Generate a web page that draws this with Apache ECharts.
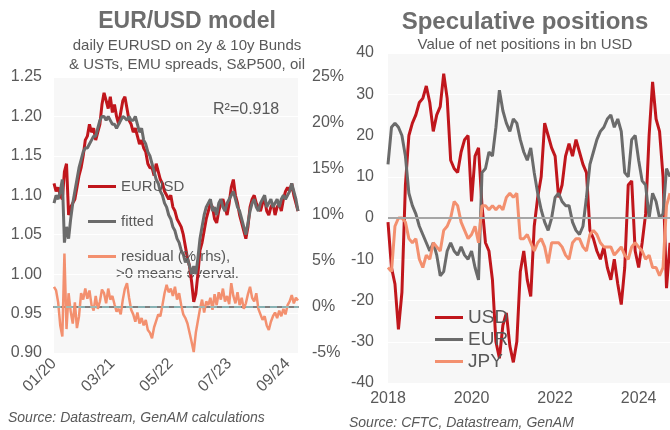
<!DOCTYPE html>
<html>
<head>
<meta charset="utf-8">
<script src="https://cdn.jsdelivr.net/npm/echarts@6/dist/echarts.min.js"></script>
<style>
html, body { margin: 0; padding: 0; background: #fff; }
#chart { width: 670px; height: 430px; }
</style>
</head>
<body>
<div id="chart"></div>
<script>
// left panel: semi-monthly points, Jan 2020 - Nov 2024
var eurusd = [
    1.115,1.105,1.110,1.100,1.095,1.130,1.140,1.075,1.085,1.090,1.095,1.110,1.125,1.135,1.150,1.170,1.175,1.190,1.180,1.185,1.170,1.180,1.190,1.215,
    1.230,1.220,1.210,1.225,1.205,1.215,1.200,1.190,1.205,1.220,1.225,1.210,1.195,1.190,1.180,1.185,1.175,1.165,1.170,1.160,1.155,1.140,1.135,1.135,
    1.125,1.140,1.130,1.120,1.115,1.105,1.100,1.095,1.100,1.085,1.080,1.070,1.065,1.060,1.050,1.035,1.020,1.010,0.990,0.965,0.975,1.000,1.030,1.040,
    1.055,1.070,1.080,1.090,1.085,1.070,1.065,1.080,1.090,1.095,1.085,1.075,1.090,1.110,1.120,1.100,1.090,1.075,1.065,1.055,1.045,1.060,1.085,1.095,
    1.100,1.090,1.085,1.080,1.090,1.095,1.080,1.075,1.085,1.090,1.075,1.085,1.090,1.080,1.095,1.105,1.110,1.105,1.115,1.100,1.090,1.080
];
var fitted = [
    1.090,1.100,1.095,1.105,1.120,1.040,1.060,1.045,1.070,1.090,1.105,1.120,1.135,1.145,1.155,1.160,1.160,1.165,1.170,1.175,1.175,1.185,1.195,1.200,
    1.200,1.195,1.200,1.195,1.190,1.190,1.185,1.190,1.195,1.200,1.198,1.195,1.200,1.195,1.195,1.200,1.190,1.180,1.185,1.170,1.165,1.155,1.150,1.140,
    1.130,1.120,1.115,1.105,1.100,1.090,1.085,1.075,1.070,1.060,1.055,1.045,1.040,1.030,1.025,1.015,1.020,1.010,1.000,1.010,1.000,1.020,1.045,1.060,
    1.075,1.085,1.090,1.095,1.080,1.085,1.075,1.090,1.095,1.085,1.080,1.090,1.095,1.100,1.105,1.095,1.085,1.080,1.070,1.060,1.050,1.065,1.080,1.090,
    1.095,1.085,1.080,1.090,1.095,1.100,1.085,1.090,1.095,1.085,1.090,1.095,1.085,1.095,1.100,1.095,1.100,1.105,1.115,1.105,1.095,1.080
];
var residual = [
    2.2,1.8,0.5,-2.0,-3.2,5.8,-2.4,1.5,-0.5,-1.8,0.5,-2.3,-1.0,1.5,0.8,2.0,0.9,1.8,0.2,-0.4,1.2,-0.2,0.6,1.9,
    1.5,0.4,2.0,0.8,1.2,0.3,-0.5,-0.2,-0.8,0.8,2.0,2.6,1.0,-0.3,-0.8,-1.6,-0.6,-1.8,-1.2,-2.0,-1.4,-2.5,-2.8,-3.4,
    -2.2,-1.5,-0.8,-1.0,0.2,1.5,2.4,1.6,2.0,1.2,2.2,0.8,1.5,0.2,-0.8,-1.2,-1.8,-2.8,-3.8,-4.9,-2.8,-1.5,-0.2,0.8,
    -0.6,0.6,0.2,1.0,-0.3,1.4,0.2,1.6,0.8,2.0,0.6,1.2,0.3,2.6,1.2,0.4,1.6,0.2,1.0,-0.2,0.4,1.4,2.2,1.0,
    0.6,1.5,-0.2,-0.8,-1.4,-1.0,-2.0,-2.5,-1.6,-1.0,-0.6,-1.2,-0.4,-1.0,-0.2,-0.8,0.2,0.6,1.3,0.4,1.0,0.7
];
var leftTicks = ['01/20', '03/21', '05/22', '07/23', '09/24'];

// right panel: monthly points, Jan 2018 - Oct 2024
var usd = [
    -1,-12,-16,-27,-18,8,20,23,25,28,29,32,
    28,21,25,27,35,29,14,12,11,16,19,20,
    4,15,17,3,-6,-8,-15,-30,-34,-26,-23,-31,
    -35,-30,-13,-8,-15,-19,-2,5,10,23,20,17,
    15,5,8,15,18,15,19,16,13,11,-3,-5,
    -8,-10,-7,-12,-15,-10,-16,-21,-12,8,9,-8,
    -12,-6,1,20,33,24,21,10,-17,-6
];
var eur = [
    13,22,23,22,20,15,6,3,1,-2,-4,-6,
    -8,-6,-9,-14,-13,-8,-6,-8,-9,-7,-9,-10,
    -8,-12,-15,11,12,16,15,22,31,26,23,21,
    24,23,19,16,14,17,11,6,2,-1,-3,0,
    5,6,4,3,3,-1,-3,-4,-2,5,13,16,
    19,21,22,24,25,22,24,21,11,10,19,20,
    14,9,8,0,6,4,0,1,12,10
];
var jpy = [
    -12,-13,-2,0,0,-1,-5,-6,-5,-10,-12,-9,
    -10,-6,-7,-8,-3,-2,0,4,3,-1,-3,-5,
    -4,-2,-6,3,3,2,3,2,3,2,5,6,
    5,6,-5,-5,-4,-6,-8,-6,-5,-7,-11,-6,
    -6,-6,-7,-9,-10,-6,-5,-5,-7,-8,-4,-3,
    -4,-6,-7,-7,-7,-9,-8,-7,-9,-10,-7,-6,
    -7,-8,-10,-9,-12,-12,-14,-12,3,6
];
var rightTicks = ['2018', '2020', '2022', '2024'];

var leftDates = [];
var rightMonths = [];

window.onload = function(){
    buildDates();
    showChart();
}

function pad(n) {
    return (n < 10 ? '0' : '') + n;
}

function buildDates() {
    var y = 2020, m = 1;
    while (leftDates.length < eurusd.length) {
        leftDates.push(y + '-' + pad(m) + '-01', y + '-' + pad(m) + '-15');
        m++;
        if (m > 12) { m = 1; y++; }
    }
    y = 2018; m = 1;
    while (rightMonths.length < usd.length) {
        rightMonths.push(y + '-' + pad(m));
        m++;
        if (m > 12) { m = 1; y++; }
    }
}

function leftLabel(v) {
    var p = v.split('-');
    return p[1] + '/' + p[0].slice(2);
}

function showChart() {

    var myChart = echarts.init(document.getElementById('chart'));
    var font = '"Liberation Sans", Arial, sans-serif';
    var txt = '#595959';
    var red = '#c0161c', grey = '#6b6b6b', salmon = '#f3906f';

    option = {
        animation: false,
        textStyle: { fontFamily: font },
        title: [
            {
                text: 'EUR/USD model',
                subtext: 'daily EURUSD on 2y & 10y Bunds\n& USTs, EMU spreads, S&P500, oil',
                left: 182,
                top: 5,
                textAlign: 'center',
                itemGap: 3,
                textStyle: { fontFamily: font, fontSize: 23, fontWeight: 'bold', color: '#6d6d6d' },
                subtextStyle: { fontFamily: font, fontSize: 15, color: txt, lineHeight: 19 }
            },
            {
                text: 'Speculative positions',
                subtext: 'Value of net positions in bn USD',
                left: 520,
                top: 5,
                textAlign: 'center',
                itemGap: 3,
                textStyle: { fontFamily: font, fontSize: 24, fontWeight: 'bold', color: '#6d6d6d' },
                subtextStyle: { fontFamily: font, fontSize: 15, color: txt }
            }
        ],
        grid: [
            { left: 54, top: 77, width: 244, height: 276, show: true, backgroundColor: '#f7f7f7', borderWidth: 0 },
            { left: 388, top: 53, width: 282, height: 330, show: true, backgroundColor: '#f7f7f7', borderWidth: 0 }
        ],
        legend: [
            {
                data: ['EURUSD', 'fitted', 'residual (% rhs),'],
                orient: 'vertical',
                left: 83,
                top: 174,
                icon: 'rect',
                itemWidth: 28,
                itemHeight: 3,
                itemGap: 20,
                textStyle: { fontFamily: font, fontSize: 15, color: txt }
            },
            {
                data: ['USD', 'EUR', 'JPY'],
                orient: 'vertical',
                left: 430,
                top: 303,
                icon: 'rect',
                itemWidth: 28,
                itemHeight: 3,
                itemGap: 3,
                textStyle: { fontFamily: font, fontSize: 19, color: txt }
            }
        ],
        graphic: [
            { type: 'text', left: 213, top: 102, style: { text: 'R²=0.918', fontFamily: font, fontSize: 16, fill: txt } },
            { type: 'text', left: 116, top: 266, style: { text: '>0 means overval.', fontFamily: font, fontSize: 15, fill: txt } },
            { type: 'text', left: 8, top: 411, style: { text: 'Source: Datastream, GenAM calculations', fontFamily: font, fontSize: 14, fontStyle: 'italic', fill: txt } },
            { type: 'text', left: 349, top: 416, style: { text: 'Source: CFTC, Datastream, GenAM', fontFamily: font, fontSize: 14, fontStyle: 'italic', fill: txt } }
        ],
        xAxis: [
            {
                gridIndex: 0,
                type: 'category',
                data: leftDates,
                boundaryGap: false,
                axisTick: { show: false },
                axisLine: { lineStyle: { color: '#7f7f7f', width: 2 } },
                axisLabel: {
                    rotate: 45,
                    fontSize: 16,
                    color: txt,
                    margin: 8,
                    interval: function (i, v) {
                        return v.split('-')[2] === '01' && leftTicks.indexOf(leftLabel(v)) >= 0;
                    },
                    formatter: function (v) { return leftLabel(v); }
                },
                splitLine: { show: false }
            },
            {
                gridIndex: 1,
                type: 'category',
                data: rightMonths,
                boundaryGap: false,
                axisTick: { show: false },
                axisLine: { show: false, onZero: false },
                axisLabel: {
                    fontSize: 16,
                    color: txt,
                    margin: 8,
                    interval: function (i, v) {
                        var p = v.split('-');
                        return p[1] === '01' && rightTicks.indexOf(p[0]) >= 0;
                    },
                    formatter: function (v) { return v.split('-')[0]; }
                },
                splitLine: { show: false }
            }
        ],
        yAxis: [
            {
                gridIndex: 0,
                type: 'value',
                min: 0.9,
                max: 1.25,
                interval: 0.05,
                axisLine: { show: false },
                axisTick: { show: false },
                axisLabel: { fontSize: 16, color: txt, margin: 12, formatter: function (v) { return v.toFixed(2); } },
                splitLine: { lineStyle: { color: '#ffffff', width: 1 } }
            },
            {
                gridIndex: 0,
                type: 'value',
                position: 'right',
                min: -5,
                max: 25,
                interval: 5,
                axisLine: { show: false },
                axisTick: { show: false },
                axisLabel: { fontSize: 16, color: txt, margin: 14, formatter: '{value}%' },
                splitLine: { show: false }
            },
            {
                gridIndex: 1,
                type: 'value',
                min: -40,
                max: 40,
                interval: 10,
                axisLine: { show: false },
                axisTick: { show: false },
                axisLabel: { fontSize: 16, color: txt, margin: 14 },
                splitLine: { lineStyle: { color: '#ffffff', width: 1 } }
            }
        ],
        series: [
            {
                name: 'EURUSD', type: 'line', xAxisIndex: 0, yAxisIndex: 0,
                data: eurusd, showSymbol: false, color: red,
                lineStyle: { color: red, width: 3 }
            },
            {
                name: 'fitted', type: 'line', xAxisIndex: 0, yAxisIndex: 0,
                data: fitted, showSymbol: false, color: grey,
                lineStyle: { color: grey, width: 3 }
            },
            {
                name: 'residual (% rhs),', type: 'line', xAxisIndex: 0, yAxisIndex: 1,
                data: residual, showSymbol: false, color: salmon,
                lineStyle: { color: salmon, width: 2.5 },
                markLine: {
                    silent: true, symbol: 'none', label: { show: false },
                    lineStyle: { color: '#8cc3c6', type: [7, 5], width: 1.5 },
                    data: [{ yAxis: 0 }]
                }
            },
            {
                name: 'USD', type: 'line', xAxisIndex: 1, yAxisIndex: 2,
                data: usd, showSymbol: false, color: red,
                lineStyle: { color: red, width: 3 },
                markLine: {
                    silent: true, symbol: 'none', label: { show: false },
                    lineStyle: { color: '#a6a6a6', type: 'solid', width: 2 },
                    data: [{ yAxis: 0 }]
                }
            },
            {
                name: 'EUR', type: 'line', xAxisIndex: 1, yAxisIndex: 2,
                data: eur, showSymbol: false, color: grey,
                lineStyle: { color: grey, width: 3 }
            },
            {
                name: 'JPY', type: 'line', xAxisIndex: 1, yAxisIndex: 2,
                data: jpy, showSymbol: false, color: salmon,
                lineStyle: { color: salmon, width: 3 }
            }
        ]
    };

    myChart.setOption(option);
}
</script>
</body>
</html>
